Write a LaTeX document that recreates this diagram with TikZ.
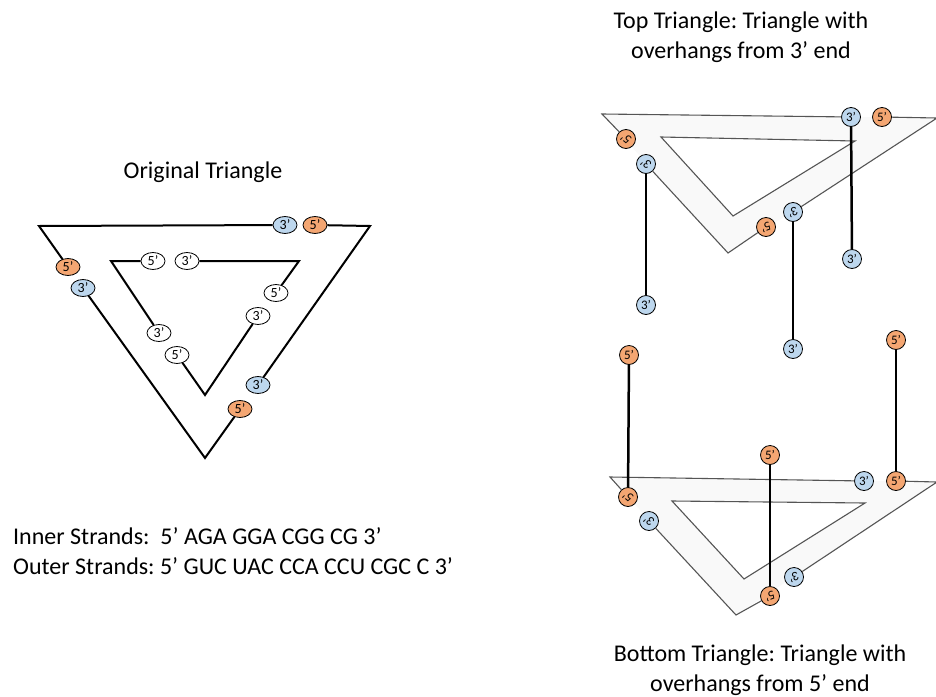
\documentclass[tikz,border=0pt]{standalone}
\usepackage{fontspec}
\usepackage{graphicx}
\setmainfont{Carlito}
\frenchspacing
\usetikzlibrary{shapes.geometric}
\definecolor{myorange}{RGB}{244,166,114}
\definecolor{myblue}{RGB}{189,215,238}
\definecolor{bandgray}{RGB}{249,249,249}
\definecolor{edgegray}{RGB}{85,85,85}
\newcommand{\lturn}[1]{\rotatebox[origin=c]{140}{#1}}
\newcommand{\rturn}[1]{\rotatebox[origin=c]{200}{#1}}
\begin{document}
\begin{tikzpicture}[x=1pt,y=-1pt,
  ell/.style={draw, ellipse, minimum width=24pt, minimum height=17pt, inner sep=0pt, line width=0.8pt, font=\fontsize{14}{14}\selectfont},
  circ/.style={draw, circle, minimum size=19pt, inner sep=0pt, line width=0.8pt, font=\fontsize{13}{13}\selectfont},
  orng/.style={fill=myorange},
  blu/.style={fill=myblue},
  wht/.style={fill=white},
  strand/.style={line width=2pt, black},
  gstrand/.style={line width=1.1pt, edgegray},
  stick/.style={line width=2.5pt, black},
  lbl/.style={font=\fontsize{24}{30}\selectfont, align=center, inner sep=0pt}]
\useasboundingbox (0,0) rectangle (936,696);
\fill[white] (0,0) rectangle (936,696);

% ---------- Original triangle ----------
\node[lbl] (t0) at (203,172) {Original Triangle};
\coordinate (oTL) at (39,226);
\coordinate (oTR) at (370,226);
\coordinate (oB) at (205,458);
\coordinate (iTL) at (111,261);
\coordinate (iTR) at (299,261);
\coordinate (iB) at (205,395);

\node[ell,blu]  (a3) at (285,225) {3’};
\node[ell,orng] (a5) at (315,225) {5’};
\node[ell,orng] (b5) at (68,267) {5’};
\node[ell,blu]  (b3) at (83,288) {3’};
\node[ell,blu]  (c3) at (258,385) {3’};
\node[ell,orng] (c5) at (240,409) {5’};

\node[ell,wht] (d5) at (153,261) {5’};
\node[ell,wht] (d3) at (187,261) {3’};
\node[ell,wht] (e5) at (276,293) {5’};
\node[ell,wht] (e3) at (258,316) {3’};
\node[ell,wht] (f3) at (159,333) {3’};
\node[ell,wht] (f5) at (177,355) {5’};

\draw[strand] (a5) -- (oTR) -- (c3);
\draw[strand] (c5) -- (oB) -- (b3);
\draw[strand] (b5) -- (oTL) -- (a3);
\draw[strand] (d3) -- (iTR) -- (e5);
\draw[strand] (e3) -- (iB) -- (f5);
\draw[strand] (f3) -- (iTL) -- (d5);

\node[anchor=west, inner sep=0pt, font=\fontsize{24}{30}\selectfont] (inner) at (13,536) {Inner Strands:\ \ 5’ AGA GGA CGG CG 3’};
\node[anchor=west, inner sep=0pt, font=\fontsize{24}{30}\selectfont] (outer) at (13,566) {Outer Strands: 5’ GUC UAC CCA CCU CGC C 3’};

% ---------- Top triangle ----------
\node[lbl] (t1) at (741,37) {Top Triangle: Triangle with\\overhangs from 3’ end};
\coordinate (pTL) at (602,114);
\coordinate (pR) at (937,118);
\coordinate (pB) at (728,253);
\coordinate (qTL) at (661,137);
\coordinate (qR) at (855,141);
\coordinate (qB) at (733,216);
\fill[bandgray] (pTL) -- (pR) -- (pB) -- cycle;
\filldraw[fill=white, draw=edgegray, line width=1.1pt] (qTL) -- (qR) -- (qB) -- cycle;

\node[circ,blu]  (g3) at (851,117) {3’};
\node[circ,orng] (g5) at (882,117) {5’};
\node[circ,orng] (h5) at (626,139) {\lturn{5’}};
\node[circ,blu]  (h3) at (646,164) {\lturn{3’}};
\node[circ,orng] (k5) at (766,227) {\rturn{5’}};
\node[circ,blu]  (k3) at (793,212) {\rturn{3’}};
\node[circ,blu] (h3e) at (646,305) {3’};
\node[circ,blu] (g3e) at (852,259) {3’};
\node[circ,blu] (k3e) at (793,349) {3’};

\draw[gstrand] (g5) -- (pR) -- (k3);
\draw[gstrand] (k5) -- (pB) -- (h3);
\draw[gstrand] (h5) -- (pTL) -- (g3);
\draw[stick] (h3) -- (h3e);
\draw[stick] (g3) -- (g3e);
\draw[stick] (k3) -- (k3e);

% ---------- Bottom triangle ----------
\node[lbl] (t2) at (760,670) {Bottom Triangle: Triangle with\\overhangs from 5’ end};
\coordinate (rTL) at (610,477);
\coordinate (rR) at (937,482);
\coordinate (rB) at (736,615);
\coordinate (sTL) at (672,501);
\coordinate (sR) at (865,503);
\coordinate (sB) at (744,579);
\fill[bandgray] (rTL) -- (rR) -- (rB) -- cycle;
\filldraw[fill=white, draw=edgegray, line width=1.1pt] (sTL) -- (sR) -- (sB) -- cycle;

\node[circ,blu]  (m3) at (864,481) {3’};
\node[circ,orng] (m5) at (896,481) {5’};
\node[circ,orng] (n5) at (628,497) {\lturn{5’}};
\node[circ,blu]  (n3) at (649,521) {\lturn{3’}};
\node[circ,orng] (u5) at (770,596) {\rturn{5’}};
\node[circ,blu]  (u3) at (794,577) {\rturn{3’}};
\node[circ,orng] (n5e) at (629,355) {5’};
\node[circ,orng] (m5e) at (896,340) {5’};
\node[circ,orng] (u5e) at (770,455) {5’};

\draw[gstrand] (m5) -- (rR) -- (u3);
\draw[gstrand] (u5) -- (rB) -- (n3);
\draw[gstrand] (n5) -- (rTL) -- (m3);
\draw[stick] (n5e) -- (n5);
\draw[stick] (m5e) -- (m5);
\draw[stick] (u5e) -- (u5);
\end{tikzpicture}
\end{document}
